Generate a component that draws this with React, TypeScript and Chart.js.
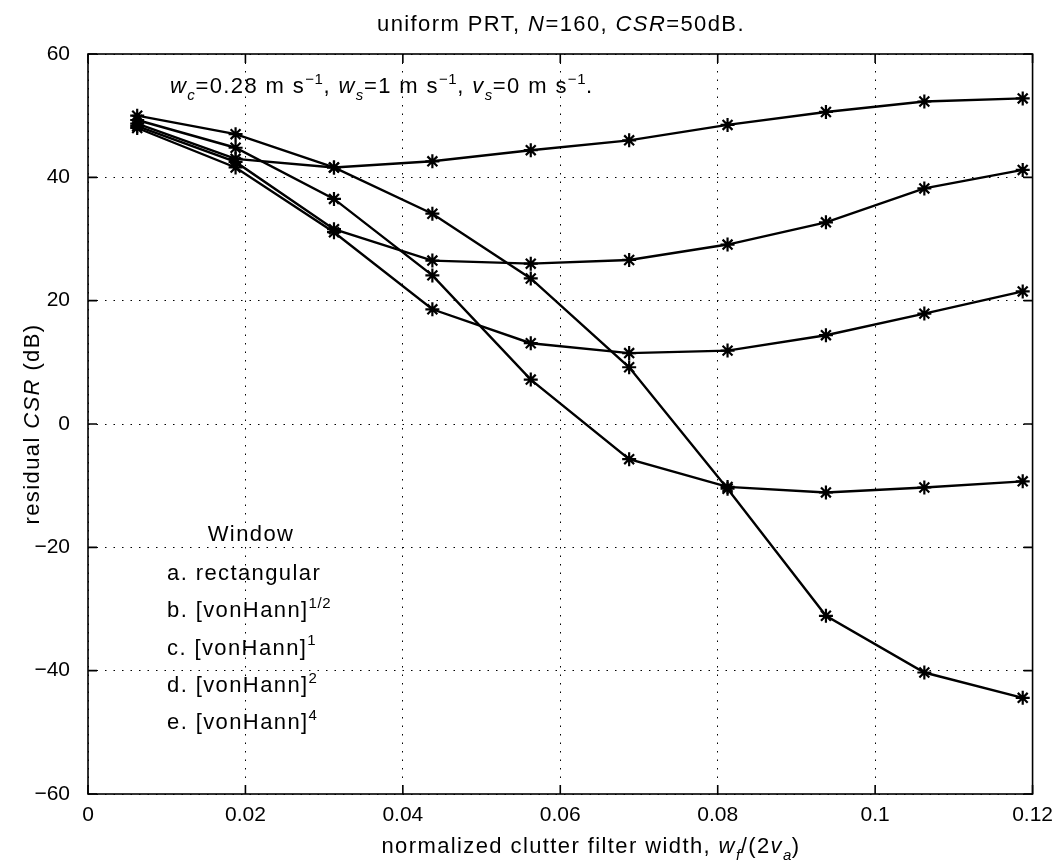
import React, { useEffect, useRef } from 'react';
import { Chart, registerables } from 'chart.js';

Chart.register(...registerables);

// ---- data ----
const filterWidths = [0.00625, 0.01875, 0.03125, 0.04375, 0.05625, 0.06875, 0.08125, 0.09375, 0.10625, 0.11875];
const rectangular = [48.7, 43.0, 41.6, 42.6, 44.4, 46.0, 48.5, 50.6, 52.3, 52.8];
const vonHannHalf = [48.3, 42.5, 31.6, 26.5, 26.0, 26.6, 29.1, 32.7, 38.2, 41.2];
const vonHann1 = [48.0, 41.6, 31.1, 18.6, 13.1, 11.5, 11.9, 14.4, 17.9, 21.5];
const vonHann2 = [49.3, 44.8, 36.5, 24.1, 7.2, -5.7, -10.2, -11.1, -10.3, -9.3];
const vonHann4 = [50.0, 47.0, 41.6, 34.1, 23.6, 9.2, -10.5, -31.1, -40.3, -44.4];

const xTickValues = [0, 0.02, 0.04, 0.06, 0.08, 0.1, 0.12];
const xTickLabels = ['0', '0.02', '0.04', '0.06', '0.08', '0.1', '0.12'];
const yTickValues = [-60, -40, -20, 0, 20, 40, 60];
const yTickLabels = ['\u221260', '\u221240', '\u221220', '0', '20', '40', '60'];

const windowPrefixes = ['a. rectangular', 'b. [vonHann]', 'c. [vonHann]', 'd. [vonHann]', 'e. [vonHann]'];
const windowPowers = ['', '1/2', '1', '2', '4'];

const FONT = '"Liberation Sans", Arial, Helvetica, sans-serif';
const FS = 22;
const TICK_FS = 21;

type Seg = { t: string; it?: boolean; sub?: boolean; sup?: boolean };

function segFont(s: Seg) {
  const size = s.sub || s.sup ? Math.round(FS * 0.7) : FS;
  return `${s.it ? 'italic ' : ''}${size}px ${FONT}`;
}

function setSpacing(ctx: any, s: Seg) {
  ctx.letterSpacing = s.sub || s.sup ? '0.6px' : '1.4px';
}

function richWidth(ctx: CanvasRenderingContext2D, segs: Seg[]) {
  let w = 0;
  for (const s of segs) {
    ctx.font = segFont(s);
    setSpacing(ctx, s);
    w += ctx.measureText(s.t).width;
  }
  return w;
}

function drawRich(ctx: CanvasRenderingContext2D, segs: Seg[], x: number, y: number, align: 'left' | 'center') {
  ctx.save();
  let cx = align === 'center' ? x - richWidth(ctx, segs) / 2 : x;
  ctx.textAlign = 'left';
  for (const s of segs) {
    ctx.font = segFont(s);
    setSpacing(ctx, s);
    const dy = s.sub ? FS * 0.32 : s.sup ? -FS * 0.42 : 0;
    ctx.fillText(s.t, cx, y + dy);
    cx += ctx.measureText(s.t).width;
  }
  ctx.restore();
}

const decorPlugin = {
  id: 'decor',
  beforeDraw(chart: any) {
    const ctx = chart.ctx as CanvasRenderingContext2D;
    ctx.save();
    ctx.fillStyle = '#fff';
    ctx.fillRect(0, 0, chart.width, chart.height);
    ctx.restore();
  },
  afterDraw(chart: any) {
    const ctx = chart.ctx as CanvasRenderingContext2D;
    const { left, right, top, bottom } = chart.chartArea;
    const xs = chart.scales.x;
    const ys = chart.scales.y;
    ctx.save();
    ctx.strokeStyle = '#000';
    ctx.lineWidth = 1.6;
    ctx.setLineDash([]);
    ctx.strokeRect(left, top, right - left, bottom - top);
    const tl = 9;
    ctx.beginPath();
    for (const v of xTickValues) {
      const px = xs.getPixelForValue(v);
      ctx.moveTo(px, bottom);
      ctx.lineTo(px, bottom - tl);
      ctx.moveTo(px, top);
      ctx.lineTo(px, top + tl);
    }
    for (const v of yTickValues) {
      const py = ys.getPixelForValue(v);
      ctx.moveTo(left, py);
      ctx.lineTo(left + tl, py);
      ctx.moveTo(right, py);
      ctx.lineTo(right - tl, py);
    }
    ctx.stroke();

    ctx.fillStyle = '#000';
    ctx.textBaseline = 'alphabetic';
    // title
    drawRich(ctx, [
      { t: 'uniform PRT, ' }, { t: 'N', it: true }, { t: '=160, ' }, { t: 'CSR', it: true }, { t: '=50dB.' },
    ], 561, 31, 'center');
    // annotation
    drawRich(ctx, [
      { t: 'w', it: true }, { t: 'c', it: true, sub: true }, { t: '=0.28 m s' }, { t: '\u22121', sup: true },
      { t: ', ' }, { t: 'w', it: true }, { t: 's', it: true, sub: true }, { t: '=1 m s' }, { t: '\u22121', sup: true },
      { t: ', ' }, { t: 'v', it: true }, { t: 's', it: true, sub: true }, { t: '=0 m s' }, { t: '\u22121', sup: true },
      { t: '.' },
    ], 170, 93, 'left');
    // legend text
    drawRich(ctx, [{ t: 'Window' }], 251, 541, 'center');
    windowPrefixes.forEach((p, i) => {
      const segs: Seg[] = [{ t: p }];
      if (windowPowers[i]) segs.push({ t: windowPowers[i], sup: true });
      drawRich(ctx, segs, 167, 580 + i * 37.3, 'left');
    });
    // x label
    drawRich(ctx, [
      { t: 'normalized clutter filter width, ' }, { t: 'w', it: true }, { t: 'f', it: true, sub: true },
      { t: '/(2' }, { t: 'v', it: true }, { t: 'a', it: true, sub: true }, { t: ')' },
    ], 591, 853, 'center');
    // y label
    ctx.translate(33, (top + bottom) / 2);
    ctx.rotate(-Math.PI / 2);
    ctx.textBaseline = 'middle';
    drawRich(ctx, [{ t: 'residual ' }, { t: 'CSR', it: true }, { t: ' (dB)' }], 0, 0, 'center');
    ctx.restore();
  },
};

function series(values: number[], label: string) {
  return {
    label,
    data: filterWidths.map((x, i) => ({ x, y: values[i] })),
    borderColor: '#000',
    backgroundColor: '#000',
    borderWidth: 2.4,
    pointStyle: 'star' as const,
    pointRadius: 7,
    pointBorderWidth: 2.2,
    pointBorderColor: '#000',
    showLine: true,
    fill: false,
    tension: 0,
  };
}

export default function App() {
  const ref = useRef<HTMLCanvasElement | null>(null);
  useEffect(() => {
    if (!ref.current) return;
    const chart = new Chart(ref.current, {
      type: 'scatter',
      data: {
        datasets: [
          series(rectangular, 'a. rectangular'),
          series(vonHannHalf, 'b. [vonHann]^1/2'),
          series(vonHann1, 'c. [vonHann]^1'),
          series(vonHann2, 'd. [vonHann]^2'),
          series(vonHann4, 'e. [vonHann]^4'),
        ],
      },
      options: {
        responsive: false,
        animation: false,
        events: [],
        layout: { padding: { left: 0, top: 54, right: 23, bottom: 0 } },
        plugins: { legend: { display: false }, tooltip: { enabled: false }, title: { display: false } },
        scales: {
          x: {
            type: 'linear',
            min: 0,
            max: 0.12,
            afterBuildTicks: (s: any) => { s.ticks = xTickValues.map((v) => ({ value: v })); },
            afterFit: (s: any) => { s.height = 71; },
            ticks: {
              color: '#000',
              font: { family: FONT, size: TICK_FS },
              padding: 9,
              maxRotation: 0,
              autoSkip: false,
              callback: (_v: any, i: number) => xTickLabels[i],
            },
            grid: { color: '#000', lineWidth: 1, drawTicks: false },
            border: { display: false, dash: [1.5, 7] },
          },
          y: {
            type: 'linear',
            min: -60,
            max: 60,
            afterBuildTicks: (s: any) => { s.ticks = yTickValues.map((v) => ({ value: v })); },
            afterFit: (s: any) => { s.width = 88; },
            ticks: {
              color: '#000',
              font: { family: FONT, size: TICK_FS },
              padding: 18,
              autoSkip: false,
              callback: (_v: any, i: number) => yTickLabels[i],
            },
            grid: { color: '#000', lineWidth: 1, drawTicks: false },
            border: { display: false, dash: [1.5, 7] },
          },
        },
      },
      plugins: [decorPlugin],
    });
    return () => chart.destroy();
  }, []);
  return (
    <div style={{ position: 'fixed', left: 0, top: 0, width: 1062, height: 865, background: '#fff' }}>
      <canvas ref={ref} width={1062} height={865} style={{ display: 'block', width: 1062, height: 865 }} />
    </div>
  );
}
